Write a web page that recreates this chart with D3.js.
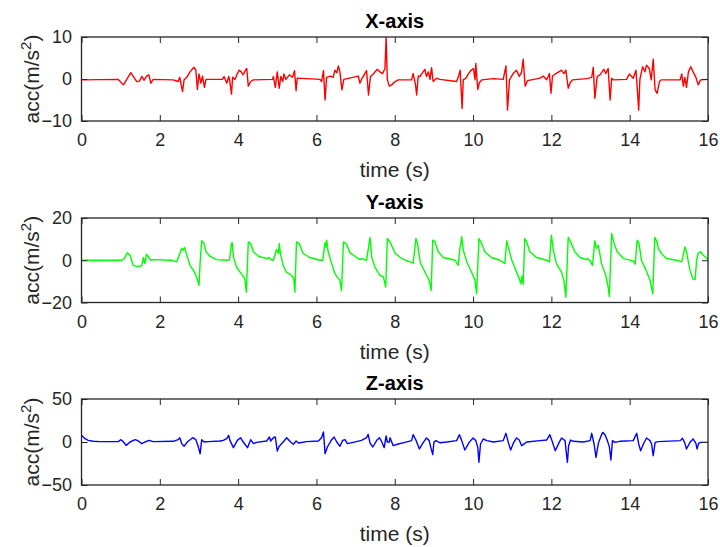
<!DOCTYPE html>
<html>
<head>
<meta charset="utf-8">
<script src="https://cdn.jsdelivr.net/npm/d3@7/dist/d3.min.js"></script>
<style>
  body { margin: 0; background: #fff; }
  svg { display: block; font-family: "Liberation Sans", Arial, Helvetica, sans-serif; }
</style>
</head>
<body>
<svg id="chart"></svg>
<script>
// time ticks shared by the three panels
const timeTicks = [0, 2, 4, 6, 8, 10, 12, 14, 16];

// [time (s), acc (m/s^2)]
const xSeries = [[0,-0.2],[0.94,-0.1],[1.07,-1.4],[1.26,1.5],[1.41,-0.6],[1.48,-0.5],[1.54,0.6],[1.6,-0.3],[1.66,0.7],[1.72,1.0],[1.77,-1.0],[1.83,-0.1],
  [2.34,-0.2],[2.47,-0.6],[2.51,0.4],[2.58,-3.0],[2.62,-0.2],[2.69,0.4],[2.77,1.7],[2.87,2.8],[2.92,2.1],[2.96,-2.5],[3.0,1.2],[3.05,-1.0],[3.09,0.7],[3.14,-2.0],[3.18,-0.1],
  [3.6,-0.1],[3.64,0.6],[3.71,-1.0],[3.76,0.6],[3.79,-0.6],[3.83,-3.6],[3.86,0.4],[3.92,-0.1],[3.98,1.3],[4.03,2.1],[4.08,1.7],[4.13,1.0],[4.18,2.0],[4.22,2.5],[4.26,-1.7],[4.32,-0.6],[4.39,-0.2],
  [4.88,-0.1],[4.9,0.6],[4.95,-2.0],[5.0,1.7],[5.05,-2.2],[5.09,0.6],[5.14,-0.6],[5.17,1.2],[5.22,-0.1],[5.31,1.0],[5.39,0.4],[5.44,2.0],[5.48,-2.8],[5.51,0.2],
  [6.09,-0.1],[6.13,-0.6],[6.18,2.0],[6.22,-5.0],[6.26,0.4],[6.36,0.7],[6.43,0.4],[6.47,2.1],[6.52,1.5],[6.56,3.1],[6.6,1.7],[6.65,-2.6],[6.7,-0.1],
  [7.07,0.7],[7.11,-1.0],[7.15,-0.1],[7.28,2.0],[7.33,-3.8],[7.38,0.6],[7.45,1.2],[7.55,2.3],[7.62,1.7],[7.69,1.3],[7.75,2.5],[7.78,10],[7.81,-0.1],[7.86,-1.7],[7.92,-1.4],[8.01,-0.6],[8.09,-0.2],
  [8.43,-0.2],[8.47,1.3],[8.53,-1.4],[8.56,-3.8],[8.6,0.7],[8.64,0.6],[8.71,1.5],[8.77,2.3],[8.81,0.6],[8.86,1.7],[8.9,-0.1],[8.94,2.7],[8.98,-0.6],[9.07,0.2],[9.15,-0.1],
  [9.58,-0.6],[9.62,0.4],[9.67,2.1],[9.72,-7.0],[9.75,-0.2],[9.82,0.2],[9.88,1.2],[9.94,2.0],[10.01,2.5],[10.05,-0.2],[10.07,3.7],[10.12,-2.5],[10.16,-0.9],[10.22,-0.2],
  [10.52,0.1],[10.77,-0.1],[10.84,3.1],[10.88,-7.4],[10.93,-0.2],[10.98,0.6],[11.04,1.5],[11.11,2.1],[11.18,0.6],[11.24,1.7],[11.28,4.7],[11.33,-1.7],[11.39,-0.4],
  [11.71,0.2],[11.79,0.7],[11.88,-0.2],[11.95,1.3],[11.99,-3.4],[12.03,0.7],[12.1,1.2],[12.19,1.7],[12.26,2.1],[12.32,1.3],[12.37,2.1],[12.43,-2.2],[12.48,-0.9],[12.54,-0.2],
  [12.9,0.1],[13.03,0.4],[13.07,2.8],[13.11,-4.6],[13.17,0.6],[13.24,1.0],[13.28,1.5],[13.34,2.3],[13.39,1.3],[13.45,2.5],[13.5,-5.0],[13.54,0.2],[13.58,-0.2],
  [13.92,-0.1],[13.99,1.2],[14.09,0.2],[14.16,2.1],[14.19,-1.8],[14.23,-7.4],[14.26,-0.1],[14.33,2.9],[14.39,1.7],[14.43,3.3],[14.5,2.5],[14.55,-0.2],[14.6,4.7],[14.65,-2.6],[14.7,-3.4],[14.76,-0.6],[14.81,-0.2],
  [15.29,-0.2],[15.33,1.2],[15.37,-1.7],[15.41,0.4],[15.45,-2.0],[15.5,1.7],[15.56,2.9],[15.62,1.7],[15.69,0.4],[15.75,-1.4],[15.81,-0.2],[16.0,-0.1]];

const ySeries = [[0,0],[1.03,0],[1.09,0.8],[1.17,3.5],[1.24,2.4],[1.32,-2.4],[1.41,-2.9],[1.49,-2.9],[1.54,-2.4],[1.58,1.3],[1.62,-1.6],[1.66,2.9],[1.71,1.6],[1.77,0],[1.83,0.3],
  [2.3,0],[2.43,-0.8],[2.56,5.6],[2.6,4.8],[2.63,6.0],[2.69,2.4],[2.77,-2.4],[2.86,-4.8],[2.94,-7.9],[3.0,-11.9],[3.03,-0.8],[3.07,9.2],[3.13,7.9],[3.18,4.0],[3.28,1.9],[3.45,0.3],
  [3.71,0],[3.78,0.3],[3.83,7.9],[3.85,8.3],[3.88,1.6],[3.96,-3.2],[4.05,-5.6],[4.17,-8.7],[4.21,-15.1],[4.26,8.7],[4.32,7.9],[4.39,4.0],[4.52,1.9],[4.73,0.8],[4.8,1.3],[4.83,0.3],
  [4.9,0],[4.98,5.1],[5.03,3.2],[5.05,7.9],[5.08,3.2],[5.15,-2.4],[5.23,-5.6],[5.36,-7.1],[5.42,-8.7],[5.45,-15.1],[5.49,8.7],[5.56,7.9],[5.66,3.2],[5.83,1.3],
  [6.09,0],[6.16,0],[6.22,8.3],[6.24,6.3],[6.26,9.5],[6.3,4.0],[6.39,-1.6],[6.47,-6.3],[6.56,-8.7],[6.6,-9.5],[6.64,-14.3],[6.69,8.7],[6.76,7.9],[6.86,3.5],[7.03,1.3],[7.11,0.3],[7.16,0.8],
  [7.28,0],[7.37,10.8],[7.41,1.6],[7.5,-3.5],[7.62,-7.1],[7.71,-7.9],[7.77,-12.7],[7.81,10.3],[7.88,8.7],[8.01,3.2],[8.18,0.8],
  [8.47,-1.4],[8.54,10.3],[8.58,7.9],[8.65,-0.8],[8.73,-4.0],[8.81,-7.1],[8.88,-9.5],[8.93,-14.3],[8.97,9.5],[9.03,8.7],[9.11,4.0],[9.24,1.3],
  [9.54,0],[9.62,-2.4],[9.66,4.8],[9.71,11.1],[9.75,4.8],[9.84,-0.8],[9.96,-5.6],[10.05,-9.5],[10.09,-15.9],[10.15,10.3],[10.22,7.9],[10.3,4.0],[10.47,1.3],
  [10.69,0],[10.81,-1.6],[10.86,9.2],[10.9,6.3],[10.99,0],[11.11,-5.6],[11.18,-8.7],[11.22,-11.1],[11.25,-7.6],[11.28,-11.4],[11.32,10.3],[11.37,8.7],[11.45,4.0],[11.62,1.3],
  [11.88,0],[11.95,-0.8],[12.0,11.9],[12.05,4.8],[12.13,-1.6],[12.26,-5.6],[12.32,-9.5],[12.37,-17.5],[12.43,10.8],[12.49,8.7],[12.6,4.0],[12.73,1.3],
  [12.9,0.3],[12.92,0.8],[12.99,-0.3],[13.05,-2.4],[13.11,9.2],[13.15,5.6],[13.2,7.1],[13.28,-1.6],[13.39,-7.1],[13.45,-12.7],[13.48,-17.1],[13.54,12.7],[13.6,7.9],[13.68,4.0],[13.84,0.8],
  [14.09,-0.3],[14.14,-1.9],[14.19,9.5],[14.24,7.9],[14.3,0],[14.42,-4.8],[14.52,-9.5],[14.59,-15.9],[14.64,10.8],[14.7,8.7],[14.73,5.6],[14.81,3.2],[14.94,0.8],
  [15.2,0],[15.33,-0.8],[15.41,6.3],[15.45,4.0],[15.54,-4.8],[15.61,-8.7],[15.67,-9.2],[15.71,0],[15.75,3.5],[15.81,4.0],[15.88,2.4],[15.97,0.8],[16.0,0.3]];

const zSeries = [[0,7.8],[0.09,3.9],[0.17,1.9],[0.3,0.8],[0.47,0.4],[0.94,0.4],[1.0,2.7],[1.05,1.2],[1.14,-3.9],[1.24,0],[1.37,2.7],[1.45,1.2],[1.54,-1.9],[1.62,0],[1.73,1.9],[1.83,0.4],
  [2.34,0.8],[2.47,2.7],[2.51,5.0],[2.56,-1.9],[2.62,-5.0],[2.7,0],[2.84,5.0],[2.92,2.7],[2.98,-5.0],[3.03,-13.6],[3.07,2.7],[3.13,0],[3.24,0.4],
  [3.54,1.2],[3.62,1.9],[3.71,3.9],[3.76,7.8],[3.79,1.9],[3.88,-6.6],[3.98,1.9],[4.06,5.0],[4.13,0],[4.24,-6.6],[4.32,2.7],[4.39,-1.9],[4.47,-0.4],
  [4.73,1.2],[4.8,5.8],[4.83,1.2],[4.9,5.0],[4.95,5.8],[5.0,-10.5],[5.05,-5.0],[5.15,0],[5.24,5.0],[5.34,0],[5.41,-2.7],[5.48,1.2],[5.54,-1.2],[5.75,0.4],
  [6.05,1.2],[6.13,5.0],[6.18,11.6],[6.22,-13.6],[6.28,-5.8],[6.39,2.7],[6.45,5.8],[6.52,0],[6.6,-5.0],[6.67,1.9],[6.73,2.7],[6.79,-1.9],[6.94,-0.4],
  [7.15,1.9],[7.28,5.0],[7.32,8.9],[7.37,-1.2],[7.44,-5.8],[7.54,1.9],[7.61,5.0],[7.67,0],[7.73,-6.6],[7.78,7.0],[7.81,0],[7.86,0],[7.88,5.0],[7.96,-4.3],[8.09,-2.3],[8.26,-0.4],
  [8.43,1.6],[8.47,8.5],[8.54,2.3],[8.63,-8.1],[8.73,-0.4],[8.81,4.7],[8.88,1.6],[8.92,-6.2],[8.97,-14.7],[9.0,-0.4],[9.05,1.6],[9.15,-0.8],[9.33,0],
  [9.58,1.6],[9.65,8.5],[9.71,1.6],[9.79,-9.3],[9.9,-0.4],[10.0,4.7],[10.07,1.6],[10.12,-6.2],[10.15,-23.6],[10.19,-2.3],[10.26,3.5],[10.35,1.6],[10.52,0],
  [10.77,1.6],[10.84,10.1],[10.9,-0.4],[10.96,-9.3],[11.04,-0.4],[11.11,4.7],[11.18,2.3],[11.24,-4.3],[11.28,-3.1],[11.37,0],
  [11.71,1.6],[11.88,2.3],[11.96,8.5],[12.03,-0.4],[12.1,-10.1],[12.2,-0.4],[12.26,4.7],[12.35,1.6],[12.37,-8.1],[12.41,-23.6],[12.44,-4.3],[12.49,2.3],[12.56,0.8],[12.82,0],
  [12.99,1.6],[13.03,10.1],[13.09,-2.3],[13.14,-17.8],[13.2,-1.6],[13.26,6.2],[13.31,11.2],[13.37,8.5],[13.43,1.6],[13.48,-5.4],[13.52,-20.9],[13.56,1.6],[13.62,-0.4],[13.75,0.8],
  [14.09,1.6],[14.18,10.1],[14.23,-2.3],[14.28,-10.1],[14.35,-2.3],[14.43,4.7],[14.52,1.6],[14.56,-2.3],[14.6,-15.9],[14.65,-0.4],[14.73,0.4],
  [15.29,1.6],[15.35,4.3],[15.41,-1.6],[15.45,-8.1],[15.54,-0.4],[15.62,3.5],[15.69,-1.6],[15.72,-8.1],[15.76,-1.6],[15.81,-0.4],[16.0,-0.4]];

const xAccTicks = [-10, 0, 10];
const yAccTicks = [-20, 0, 20];
const zAccTicks = [-50, 0, 50];

const titles = ["X-axis", "Y-axis", "Z-axis"];
const colors = ["#ff0000", "#00ff00", "#0000ff"];

const W = 720, H = 547;
const left = 81.5, right = 708;
const axisColor = "#262626";

const panels = [
  { title: titles[0], data: xSeries, ticks: xAccTicks, color: colors[0], top: 37, bottom: 121 },
  { title: titles[1], data: ySeries, ticks: yAccTicks, color: colors[1], top: 218, bottom: 302.5 },
  { title: titles[2], data: zSeries, ticks: zAccTicks, color: colors[2], top: 399, bottom: 485 }
];

const svg = d3.select("#chart").attr("width", W).attr("height", H);
svg.append("rect").attr("width", W).attr("height", H).attr("fill", "#fff");

const x = d3.scaleLinear().domain([0, 16]).range([left, right]);

panels.forEach((p, i) => {
  const y = d3.scaleLinear()
    .domain(d3.extent(p.ticks))
    .range([p.bottom, p.top]);

  // clip the trace to the plot box
  svg.append("clipPath").attr("id", "clip" + i)
    .append("rect")
      .attr("x", left).attr("y", p.top)
      .attr("width", right - left).attr("height", p.bottom - p.top);

  const line = d3.line()
    .x(d => x(d[0]))
    .y(d => y(d[1]));

  svg.append("path")
    .datum(p.data)
    .attr("clip-path", `url(#clip${i})`)
    .attr("fill", "none")
    .attr("stroke", p.color)
    .attr("stroke-width", 1.4)
    .attr("stroke-linejoin", "round")
    .attr("d", line);

  // axes: ticks pointing inward on all four sides
  const bottomG = svg.append("g")
    .attr("transform", `translate(0,${p.bottom})`)
    .call(d3.axisBottom(x).tickValues(timeTicks).tickSize(-6).tickPadding(12.5));
  const topG = svg.append("g")
    .attr("transform", `translate(0,${p.top})`)
    .call(d3.axisTop(x).tickValues(timeTicks).tickSize(-6).tickFormat(""));
  const leftG = svg.append("g")
    .attr("transform", `translate(${left},0)`)
    .call(d3.axisLeft(y).tickValues(p.ticks).tickSize(-6).tickPadding(9.5));
  const rightG = svg.append("g")
    .attr("transform", `translate(${right},0)`)
    .call(d3.axisRight(y).tickValues(p.ticks).tickSize(-6).tickFormat(""));

  [bottomG, topG, leftG, rightG].forEach(g => {
    g.select(".domain").remove();
    g.selectAll(".tick line").attr("stroke", axisColor).attr("stroke-width", 1);
    g.selectAll(".tick text")
      .attr("fill", axisColor)
      .style("font-family", '"Liberation Sans", Arial, sans-serif')
      .style("font-size", "18px");
  });

  svg.append("rect")
    .attr("x", left).attr("y", p.top)
    .attr("width", right - left).attr("height", p.bottom - p.top)
    .attr("fill", "none")
    .attr("stroke", axisColor)
    .attr("stroke-width", 1.3);

  // title
  svg.append("text")
    .attr("x", (left + right) / 2)
    .attr("y", p.top - 9.5)
    .attr("text-anchor", "middle")
    .style("font-size", "20px")
    .style("font-weight", "bold")
    .attr("fill", "#000")
    .text(p.title);

  // x label
  svg.append("text")
    .attr("x", (left + right) / 2)
    .attr("y", p.bottom + 56)
    .attr("text-anchor", "middle")
    .style("font-size", "21px")
    .attr("fill", axisColor)
    .text("time (s)");

  // y label with superscript
  const yl = svg.append("text")
    .attr("transform", `translate(39,${(p.top + p.bottom) / 2}) rotate(-90)`)
    .attr("text-anchor", "middle")
    .style("font-size", "21px")
    .attr("fill", axisColor);
  yl.append("tspan").text("acc(m/s");
  yl.append("tspan").attr("dy", -8).style("font-size", "15px").text("2");
  yl.append("tspan").attr("dy", 8).text(")");
});
</script>
</body>
</html>
